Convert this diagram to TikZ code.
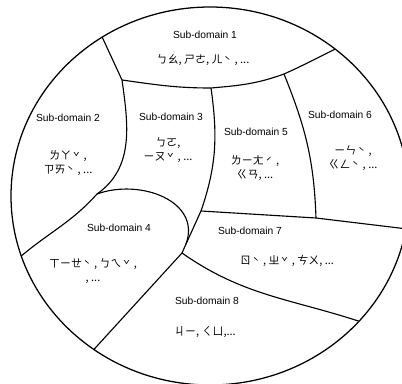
\documentclass[tikz,border=0pt]{standalone}
\usepackage{fontspec}
\newfontfamily\sanslat{Liberation Sans}
\newfontfamily\zhuyin{Noto Sans CJK TC}
\newcommand\tono[1]{\kern1.2pt\raisebox{-1.5pt}{#1}\kern2.8pt}
\begin{document}
\begin{tikzpicture}[
    x=0.025cm, y=0.025cm,
    bordo/.style={line width=0.8pt},
    cerchio/.style={line width=0.9pt},
    titolo/.style={inner sep=0pt,font=\sanslat\fontsize{7.3}{8}\selectfont},
    simboli/.style={inner sep=0pt,align=center,font=\zhuyin\fontsize{7.8}{10}\selectfont}]

  \useasboundingbox (0,0) rectangle (402,383);
  \clip (0,0) rectangle (402,383);

  \coordinate (c)   at (210,187);                            % centro
  \coordinate (p12) at ([shift={(c)}]122.8:199 and 189);     % bordo 1/2
  \coordinate (p16) at ([shift={(c)}]51:199 and 189);        % bordo 1/6
  \coordinate (p24) at ([shift={(c)}]198.5:199 and 189);     % bordo 2/4
  \coordinate (p48) at ([shift={(c)}]234.3:199 and 189);     % bordo 4/8
  \coordinate (p78) at ([shift={(c)}]-41.5:199 and 189);     % bordo 7/8
  \coordinate (p67) at ([shift={(c)}]-10:199 and 189);       % bordo 6/7

  \coordinate (j1) at (122,303);   % 1, 2, 3
  \coordinate (j2) at (211,295);   % 1, 3, 5
  \coordinate (j3) at (284,309);   % 1, 5, 6
  \coordinate (j4) at (97,189);    % 2, 3, 4
  \coordinate (j5) at (201,172);   % 3, 5, 7
  \coordinate (j6) at (316,165);   % 5, 6, 7
  \coordinate (j7) at (182,130);   % 4, 7, 8
  \coordinate (j8) at (186,139);   % 3, 4, 7

  \draw[cerchio] (c) ellipse [x radius=199, y radius=189];

  \draw[bordo] (j1) to[out=-8,in=180] (j2) to[out=5,in=200] (j3) to[out=24,in=206] (p16);
  \draw[bordo] (p12) -- (j1) to[out=-82,in=35] (j4) to[out=-132,in=40] (p24);
  \draw[bordo] (j4) to[out=20,in=70,looseness=1.15] (j8);
  \draw[bordo] (j2) to[out=-82,in=71] (j5) -- (j8) -- (j7);
  \draw[bordo] (j3) to[out=-68,in=92] (j6);
  \draw[bordo] (j5) -- (j6) -- (p67);
  \draw[bordo] (j7) to[out=-35,in=162] (p78);
  \draw[bordo] (j7) -- (p48);

  \node[titolo]  (t1) at (205,348) {Sub-domain 1};
  \node[simboli] (z1) at (203,323) {ㄅㄠ, ㄕㄜ, ㄦ\tono{ˋ}, ...};
  \node[titolo]  (t2) at (68,265)  {Sub-domain 2};
  \node[simboli] (z2) at (68,220)  {ㄌㄚ\tono{ˇ},\\ㄗㄞ\tono{ˋ}, ...};
  \node[titolo]  (t3) at (171,266) {Sub-domain 3};
  \node[simboli] (z3) at (168,233) {ㄅㄛ,\\ㄧㄡ\tono{ˇ}, ...};
  \node[titolo]  (t4) at (119,155) {Sub-domain 4};
  \node[simboli] (z4) at (93,112)  {ㄒㄧㄝ\tono{ˋ}, ㄅㄟ\tono{ˇ},\\, ...};
  \node[titolo]  (t5) at (256,251) {Sub-domain 5};
  \node[simboli] (z5) at (255,215) {ㄌㄧㄤ\tono{ˊ},\\ㄍㄢ, ...};
  \node[titolo]  (t6) at (340,268) {Sub-domain 6};
  \node[simboli] (z6) at (353,225) {ㄧㄣ\tono{ˋ},\\ㄍㄥ\tono{ˋ}, ...};
  \node[titolo]  (t7) at (250,152) {Sub-domain 7};
  \node[simboli] (z7) at (287,122) {ㄖ\tono{ˋ}, ㄓ\tono{ˇ}, ㄘㄨ, ...};
  \node[titolo]  (t8) at (207,82)  {Sub-domain 8};
  \node[simboli] (z8) at (205,51)  {ㄐㄧ, ㄑㄩ,...};

\end{tikzpicture}
\end{document}
